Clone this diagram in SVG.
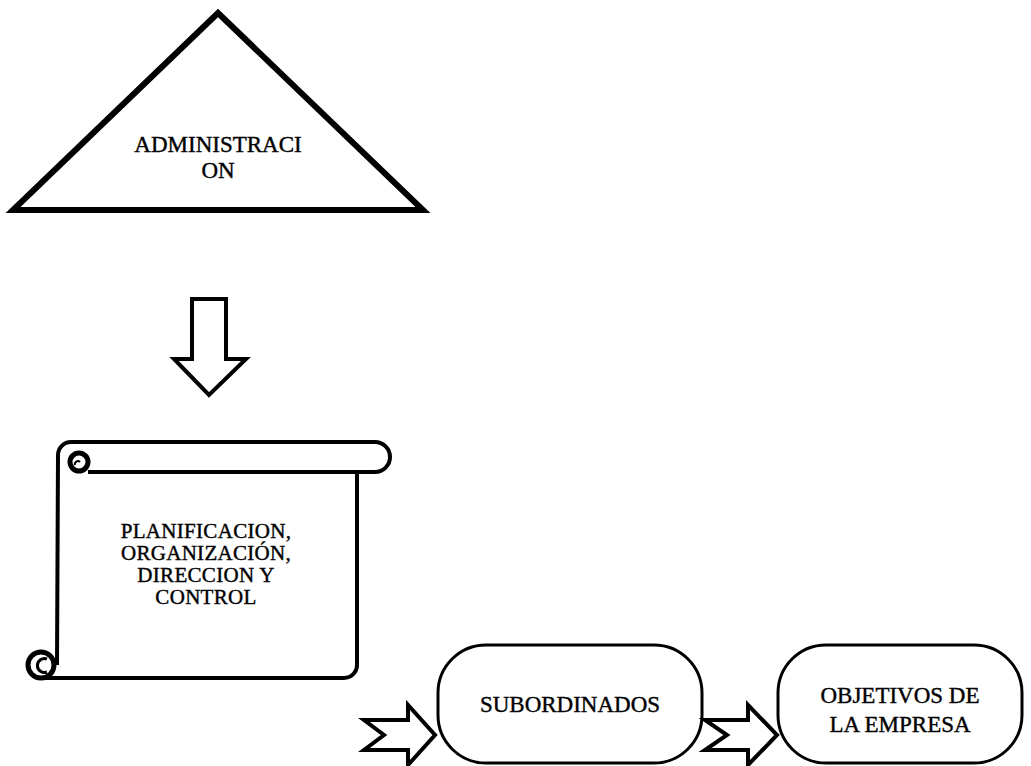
<svg xmlns="http://www.w3.org/2000/svg" width="1031" height="766" viewBox="0 0 1031 766">
<style>
.ln{fill:#fff;stroke:#000;stroke-linejoin:miter}
.t{font-family:"Liberation Serif","Times New Roman",serif;font-size:23px;fill:#000;stroke:#000;stroke-width:0.4;text-anchor:middle}
.ts{font-family:"Liberation Serif","Times New Roman",serif;font-size:21px;fill:#000;stroke:#000;stroke-width:0.4;text-anchor:middle;letter-spacing:0.3px}
</style>
<rect width="1031" height="766" fill="#fff"/>
<g id="administracion">
<polygon class="ln" stroke-width="6" points="218,13 13,210 423,210"/>
<text class="t" x="218" y="152">ADMINISTRACI</text>
<text class="t" x="218" y="178">ON</text>
</g>
<g id="planificacion">
<path class="ln" stroke-width="4" d="M57,665 L58,455 A13,13 0 0 1 71,442 L375,442 A15,15 0 0 1 375,472 L357,472 L357,665 A13,13 0 0 1 344,678 L42,678"/>
<path fill="none" stroke="#000" stroke-width="4" d="M357,472 L88,472"/>
<circle cx="79" cy="462" r="9" fill="#fff" stroke="#000" stroke-width="5"/>
<path fill="none" stroke="#000" stroke-width="2" d="M75,465 A3,3 0 0 1 80,462"/>
<circle cx="41" cy="665" r="13" fill="#fff" stroke="#000" stroke-width="5"/>
<path fill="none" stroke="#000" stroke-width="3" d="M47,659 A7,7 0 1 0 47,672"/>
<text class="ts" x="206" y="538">PLANIFICACION,</text>
<text class="ts" x="206" y="560">ORGANIZACIÓN,</text>
<text class="ts" x="206" y="582">DIRECCION Y</text>
<text class="ts" x="206" y="604">CONTROL</text>
</g>
<g id="subordinados">
<rect class="ln" stroke-width="3" x="438" y="645" width="264" height="118" rx="48" ry="48"/>
<text class="t" x="570" y="712">SUBORDINADOS</text>
</g>
<g id="objetivos">
<rect class="ln" stroke-width="3" x="778" y="645" width="244" height="118" rx="48" ry="48"/>
<text class="t" x="900" y="703">OBJETIVOS DE</text>
<text class="t" x="900" y="732">LA EMPRESA</text>
</g>
<g id="connectors">
<polygon class="ln" stroke-width="4" points="192,299 226,299 226,359 246,359 209,395 174,359 192,359"/>
<polygon class="ln" stroke-width="4" points="364,720 408,720 408,705 435,735 408,765 408,750 364,750 384,735"/>
<polygon class="ln" stroke-width="4" points="705,720 748,720 748,705 777,735 748,765 748,750 705,750 727,735"/>
</g>
</svg>
